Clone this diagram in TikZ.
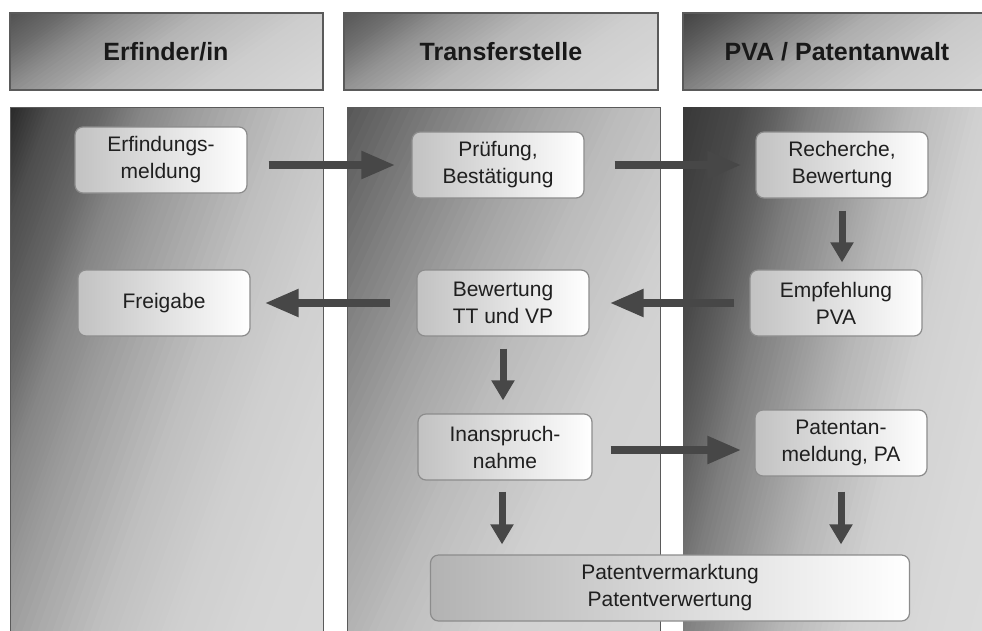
\documentclass[tikz,border=0pt]{standalone}
\usepackage{fontspec}
\setmainfont{Liberation Sans}
\usetikzlibrary{arrows.meta,calc}
\definecolor{arrowgray}{HTML}{474747}
\definecolor{framegray}{HTML}{5A5A5A}
\definecolor{boxborder}{HTML}{8C8C8C}
% linear grey gradient drawn with strips: x0 y0 x1 y1 (top-left, bottom-right), direction angle, stops t0/grey0/t1/grey1
\newcommand{\gradregion}[6]{%
  \begin{scope}
    \clip (#1,#2) rectangle (#3,#4);
    \pgfmathsetmacro\gS{(#3-#1)*cos(#5)+(#4-#2)*sin(#5)}
    \foreach \ta/\ca/\tb/\cb in {#6} {
      \foreach \k in {0,...,11} {
        \pgfmathsetmacro\gSa{(\ta+(\tb-\ta)*\k/12)*\gS}
        \pgfmathsetmacro\gSb{(\ta+(\tb-\ta)*(\k+1)/12)*\gS+0.8}
        \pgfmathsetmacro\gCc{\ca+(\cb-\ca)*(\k+0.5)/12}
        \fill[black!\gCc] ($(#1,#2)+(#5:\gSa)+(#5+90:900)$) -- ($(#1,#2)+(#5:\gSb)+(#5+90:900)$)
          -- ($(#1,#2)+(#5:\gSb)+(#5-90:900)$) -- ($(#1,#2)+(#5:\gSa)+(#5-90:900)$) -- cycle;
      }
    }
  \end{scope}}
\tikzset{
  header/.style={draw=framegray, line width=1.2pt},
  lane/.style={draw=framegray, line width=1pt},
  stepbox/.style={rectangle, rounded corners=8pt, draw=boxborder, line width=1.2pt,
    align=center, font=\fontsize{21}{27}\selectfont, text=black!88,
    minimum width=172pt, minimum height=66pt, inner sep=2pt,
    left color=black!24, middle color=black!7, right color=white},
  harr/.style={draw=arrowgray, line width=8pt, -{Triangle[length=34pt,width=26pt]}},
  varr/.style={draw=arrowgray, line width=7pt, -{Triangle[length=20pt,width=22pt]}},
  htext/.style={font=\fontsize{25}{30}\selectfont\bfseries, text=black!90}
}
\begin{document}
\begin{tikzpicture}[x=1pt,y=-1pt]
\useasboundingbox (0,0) rectangle (982,630);
\fill[white] (0,0) rectangle (982,630);
% headers
\gradregion{10}{13}{323}{90}{55}{0/68/.12/59, .12/59/.26/44, .26/44/.46/29, .46/29/.7/20, .7/20/1/15}
\gradregion{344}{13}{658}{90}{55}{0/66/.12/57, .12/57/.26/42, .26/42/.46/28, .46/28/.7/19, .7/19/1/15}
\gradregion{683}{13}{990}{90}{55}{0/74/.12/64, .12/64/.26/50, .26/50/.46/32, .46/32/.7/21, .7/21/1/16}
\draw[header] (10,13) rectangle (323,90);
\draw[header] (344,13) rectangle (658,90);
\draw[header] (683,13) rectangle (990,90);
\node[htext] (h1) at (166,52) {Erfinder/in};
\node[htext] (h2) at (501,52) {Transferstelle};
\node[htext] (h3) at (837,52) {PVA / Patentanwalt};
% lanes
\gradregion{10}{107}{323}{640}{20}{0/84/.08/70, .08/70/.18/60, .18/60/.26/48, .26/48/.37/38, .37/38/.55/25, .55/25/.7/19, .7/19/.85/16, .85/16/1/15}
\gradregion{347}{107}{660}{640}{25}{0/66/.17/50, .17/50/.34/36, .34/36/.5/26, .5/26/.7/18, .7/18/1/16}
\gradregion{683}{107}{990}{640}{14}{0/78/.13/71, .13/71/.21/62, .21/62/.29/51, .29/51/.42/38, .42/38/.51/29, .51/29/.68/18, .68/18/.85/15, .85/15/1/14}
\draw[lane] (10,107) rectangle (323,640);
\draw[lane] (347,107) rectangle (660,640);
% step boxes
\node[stepbox] (erf) at (161,160) {Erfindungs-\\meldung};
\node[stepbox] (pruef) at (498,165) {Prüfung,\\Bestätigung};
\node[stepbox] (rech) at (842,165) {Recherche,\\Bewertung};
\node[stepbox] (frei) at (164,303) {Freigabe};
\node[stepbox] (bew) at (503,303) {Bewertung\\TT und VP};
\node[stepbox] (empf) at (836,303) {Empfehlung\\PVA};
\node[stepbox, minimum width=174pt] (inan) at (505,447) {Inanspruch-\\nahme};
\node[stepbox] (pat) at (841,443) {Patentan-\\meldung, PA};
\node[stepbox, minimum width=479pt, left color=black!30, middle color=black!9, right color=white] (verm) at (670,588) {Patentvermarktung\\Patentverwertung};
% arrows
\draw[harr, shorten <=21pt, shorten >=16pt] (erf.east |- pruef.west) -- (pruef.west);
\draw[harr, shorten <=30pt, shorten >=14pt] (pruef.east) -- (rech.west);
\draw[varr, shorten <=12pt, shorten >=7pt] (rech.south) -- (rech.south |- empf.north);
\draw[harr, shorten <=15pt, shorten >=20pt] (empf.west) -- (empf.west -| bew.east);
\draw[harr, shorten <=26pt, shorten >=14pt] (bew.west) -- (bew.west -| frei.east);
\draw[varr, shorten <=12pt, shorten >=13pt] (bew.south) -- (bew.south |- inan.north);
\draw[harr, shorten <=18pt, shorten >=13pt] ($(inan.east)+(0,3)$) -- ($(inan.east -| pat.west)+(0,3)$);
\draw[varr, shorten <=11pt, shorten >=10pt] ([xshift=-3pt]inan.south) -- ([xshift=-3pt]inan.south |- verm.north);
\draw[varr, shorten <=15pt, shorten >=10pt] (pat.south) -- (pat.south |- verm.north);
\end{tikzpicture}
\end{document}
